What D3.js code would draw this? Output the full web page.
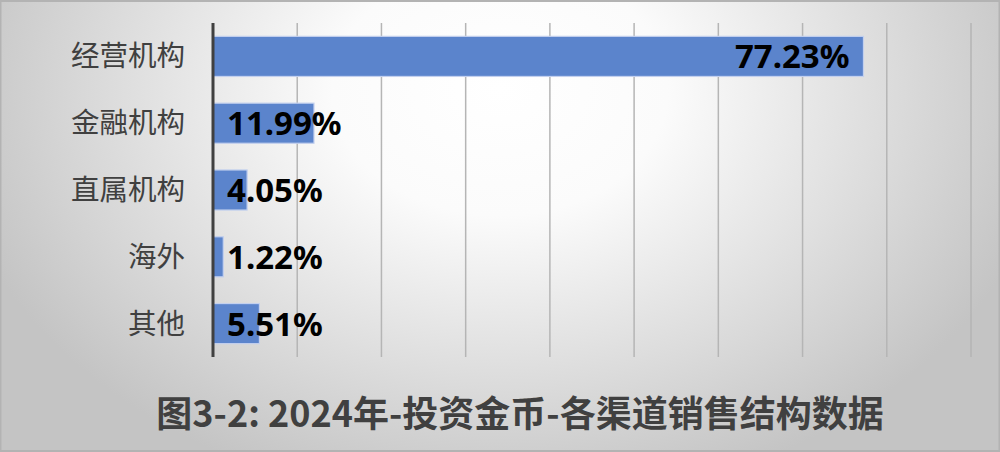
<!DOCTYPE html>
<html><head><meta charset="utf-8">
<script src="https://cdn.jsdelivr.net/npm/d3@7/dist/d3.min.js"></script>
<style>html,body{margin:0;padding:0;background:#fff;}svg{display:block;}</style>
</head><body>
<script>
const categories = ["经营机构","金融机构","直属机构","海外","其他"];
const values = [77.23, 11.99, 4.05, 1.22, 5.51];
const xTicks = [0,10,20,30,40,50,60,70,80,90];
const title = "图3-2: 2024年-投资金币-各渠道销售结构数据";

const W = 1000, H = 452;
const m = {left: 213, right: 29, top: 23, bottom: 95};
const svg = d3.select("body").append("svg").attr("width", W).attr("height", H);
const defs = svg.append("defs");
const g0 = defs.append("radialGradient").attr("id","bg")
  .attr("gradientUnits","userSpaceOnUse").attr("cx",500).attr("cy",90).attr("r",560)
  .attr("gradientTransform","matrix(1,0,0,0.75,0,22)");
g0.append("stop").attr("offset","0%").attr("stop-color","#ffffff");
g0.append("stop").attr("offset","30%").attr("stop-color","#fbfbfb");
g0.append("stop").attr("offset","100%").attr("stop-color","#c4c4c4");
svg.append("rect").attr("width",W).attr("height",H).attr("fill","url(#bg)");
svg.append("rect").attr("x",0.5).attr("y",1).attr("width",W-1).attr("height",H-2)
  .attr("fill","none").attr("stroke","#b3b3b3").attr("stroke-width",2);

const x = d3.scaleLinear().domain([0,90]).range([m.left, W - m.right]);
const y = d3.scaleBand().domain(categories).range([m.top, H - m.bottom]).paddingInner(0.4).paddingOuter(0.2);

// gridlines
svg.append("g").selectAll("line").data(xTicks.slice(1)).join("line")
  .attr("x1", d => x(d)).attr("x2", d => x(d))
  .attr("y1", m.top).attr("y2", H - m.bottom)
  .attr("stroke", "#b5b5b5").attr("stroke-width", 1.5);

// bars
svg.append("g").selectAll("rect").data(values).join("rect")
  .attr("x", x(0)).attr("y", (d,i) => y(categories[i]))
  .attr("width", d => x(d) - x(0)).attr("height", y.bandwidth())
  .attr("fill", "#5b84cc").attr("stroke", "#c3d0ee").attr("stroke-width", 1.2);

// axis line
svg.append("line").attr("x1", x(0)).attr("x2", x(0)).attr("y1", m.top).attr("y2", H - m.bottom)
  .attr("stroke", "#404040").attr("stroke-width", 3);

// category labels
const yAxis = d3.axisLeft(y).tickSize(0).tickPadding(28);
const ya = svg.append("g").attr("transform", `translate(${x(0)},0)`).call(yAxis);
ya.select(".domain").remove();
ya.selectAll("text").attr("font-family","'Noto Sans CJK SC','Noto Sans',sans-serif")
  .attr("font-size", 28.5).attr("fill", "#404040").attr("dy","0.35em");

// data labels
svg.append("g").selectAll("text").data(values).join("text")
  .attr("x", d => (x(d) - x(0) > 200) ? x(d) - 14 : x(0) + 14)
  .attr("text-anchor", d => (x(d) - x(0) > 200) ? "end" : "start")
  .attr("y", (d,i) => y(categories[i]) + y.bandwidth()/2 + 12)
  .attr("font-family","'Noto Sans',sans-serif").attr("font-weight","bold")
  .attr("font-size", 33).attr("fill", "#000")
  .text(d => d.toFixed(2) + "%");

// title
svg.append("text").attr("x", 520).attr("y", 427).attr("text-anchor","middle")
  .attr("font-family","'Noto Sans CJK SC','Noto Sans',sans-serif").attr("font-weight","bold")
  .attr("font-size", 36).attr("fill", "#404040").text(title);
</script>
</body></html>
